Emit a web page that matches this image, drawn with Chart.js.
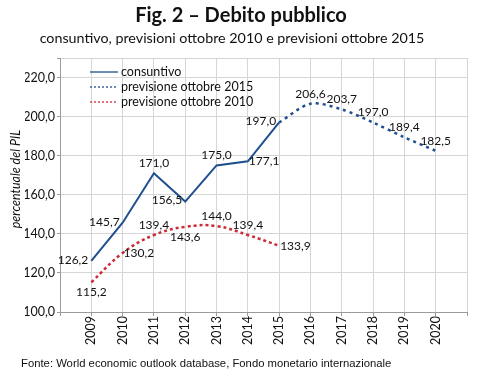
<!DOCTYPE html>
<html>
<head>
<meta charset="utf-8">
<script src="https://cdn.jsdelivr.net/npm/chart.js@4.4.1/dist/chart.umd.min.js"></script>
<style>
	html, body { margin: 0; padding: 0; background: #fff; }
	#wrap { width: 482px; height: 389px; }
</style>
</head>
<body>
<div id="wrap"><canvas id="debitoChart" width="482" height="389"></canvas></div>
<script>
'use strict';

// 데이터
const years = [2009, 2010, 2011, 2012, 2013, 2014, 2015, 2016, 2017, 2018, 2019, 2020];
const consuntivo = [126.2, 145.7, 171.0, 156.5, 175.0, 177.1, 197.0, null, null, null, null, null];
const previsione2015 = [null, null, null, null, null, null, 197.0, 206.6, 203.7, 197.0, 189.4, 182.5];
const previsione2010 = [115.2, 130.2, 139.4, 143.6, 144.0, 139.4, 133.9, null, null, null, null, null];
const yTicks = [100, 120, 140, 160, 180, 200, 220];

// 라벨 위치 (l: 왼쪽, r: 오른쪽, a: 위, b: 아래)
const consuntivoPos = ['l', 'l', 'a', 'l', 'a', 'r', 'l'];
const previsione2015Pos = [null, 'a', 'a', 'a', 'a', 'a'];
const previsione2010Pos = ['b', 'r', 'a', 'b', 'a', 'a', 'r'];

const BLUE = '#1f4f8f';
const RED = '#cc2a36';

function toPoints(values) {
	const pts = [];
	values.forEach((v, i) => {
		if (v !== null) pts.push({ x: years[i], y: v });
	});
	return pts;
}

function fmt(v) {
	return v.toFixed(1).replace('.', ',');
}

// 값 라벨, 범례, 제목 그리기
const decorPlugin = {
	id: 'decor',
	afterDatasetsDraw(chart) {
		const ctx = chart.ctx;
		ctx.save();
		ctx.fillStyle = '#111';
		ctx.font = '12px Lato';
		ctx.textBaseline = 'middle';
		chart.data.datasets.forEach((ds, di) => {
			const meta = chart.getDatasetMeta(di);
			meta.data.forEach((pt, i) => {
				const pos = ds.labelPos[i];
				if (!pos) return;
				const txt = fmt(ds.data[i].y);
				if (pos === 'l') {
					ctx.textAlign = 'right';
					ctx.fillText(txt, pt.x - 3, pt.y - 1);
				} else if (pos === 'r') {
					ctx.textAlign = 'left';
					ctx.fillText(txt, pt.x + 1, pt.y);
				} else if (pos === 'a') {
					ctx.textAlign = 'center';
					ctx.fillText(txt, pt.x, pt.y - 10);
				} else {
					ctx.textAlign = 'center';
					ctx.fillText(txt, pt.x, pt.y + 10);
				}
			});
		});

		// 범례
		const rows = [72, 87, 102];
		chart.data.datasets.forEach((ds, di) => {
			const y = rows[di];
			ctx.beginPath();
			ctx.strokeStyle = ds.borderColor;
			ctx.lineWidth = 1.3;
			ctx.setLineDash(ds.borderDash.length ? [2, 2] : []);
			ctx.moveTo(90, y);
			ctx.lineTo(118, y);
			ctx.stroke();
			ctx.setLineDash([]);
			ctx.fillStyle = '#111';
			ctx.textAlign = 'left';
			ctx.font = '12.5px Lato';
			ctx.fillText(ds.label, 121, y);
		});
		ctx.restore();
	},
	afterDraw(chart) {
		const ctx = chart.ctx;
		ctx.save();
		ctx.fillStyle = '#111';
		ctx.textAlign = 'center';
		ctx.textBaseline = 'middle';
		ctx.font = 'bold 20px Lato';
		ctx.fillText('Fig. 2 – Debito pubblico', 241, 16);
		ctx.font = '14.3px Lato';
		ctx.fillText('consuntivo, previsioni ottobre 2010 e previsioni ottobre 2015', 232, 38);

		// 출처
		ctx.textAlign = 'left';
		ctx.font = '11.3px "Liberation Sans"';
		ctx.fillText('Fonte: World economic outlook database, Fondo monetario internazionale', 21, 364);

		// y축 제목
		ctx.translate(16, 179);
		ctx.rotate(-Math.PI / 2);
		ctx.textAlign = 'center';
		ctx.font = 'italic 12.5px Lato';
		ctx.fillText('percentuale del PIL', 0, 0);
		ctx.restore();
	}
};

const debito_chart = document.getElementById('debitoChart');

new Chart(debito_chart, {
	type: 'line',
	data: {
		datasets: [{
			label: 'consuntivo',
			data: toPoints(consuntivo),
			labelPos: consuntivoPos,
			borderColor: BLUE,
			borderWidth: 2,
			borderDash: [],
			pointRadius: 0,
			tension: 0
		}, {
			label: 'previsione ottobre 2015',
			data: toPoints(previsione2015),
			labelPos: previsione2015Pos,
			borderColor: BLUE,
			borderWidth: 2.5,
			borderDash: [3, 4],
			pointRadius: 0,
			tension: 0.3
		}, {
			label: 'previsione ottobre 2010',
			data: toPoints(previsione2010),
			labelPos: previsione2010Pos,
			borderColor: RED,
			borderWidth: 2.5,
			borderDash: [3, 3],
			pointRadius: 0,
			tension: 0.4
		}]
	},
	options: {
		responsive: false,
		animation: false,
		layout: {
			padding: { top: 58, left: 25, right: 12, bottom: 40 }
		},
		plugins: {
			legend: { display: false },
			tooltip: { enabled: false },
			title: { display: false }
		},
		scales: {
			x: {
				type: 'linear',
				min: 2008,
				max: 2021,
				afterFit(scale) { scale.height = 37; },
				ticks: {
					stepSize: 1,
					autoSkip: false,
					maxRotation: 90,
					minRotation: 90,
					padding: 0,
					color: '#111',
					font: { family: 'Lato', size: 12.5 },
					callback: v => (v >= 2009 && v <= 2020) ? String(v) : ''
				},
				grid: { color: '#d6d6d6', tickLength: 4, tickColor: '#9a9a9a' },
				border: { color: '#9a9a9a' }
			},
			y: {
				min: 100,
				max: 230,
				afterFit(scale) { scale.width = 35; },
				afterBuildTicks(scale) {
					scale.ticks = yTicks.concat([230]).map(v => ({ value: v }));
				},
				ticks: {
					padding: 2,
					color: '#111',
					font: { family: 'Lato', size: 12.5 },
					callback: v => yTicks.includes(v) ? fmt(v) : ''
				},
				grid: { color: '#d6d6d6', tickLength: 3, tickColor: '#9a9a9a' },
				border: { color: '#9a9a9a' }
			}
		}
	},
	plugins: [decorPlugin]
});
</script>
</body>
</html>
